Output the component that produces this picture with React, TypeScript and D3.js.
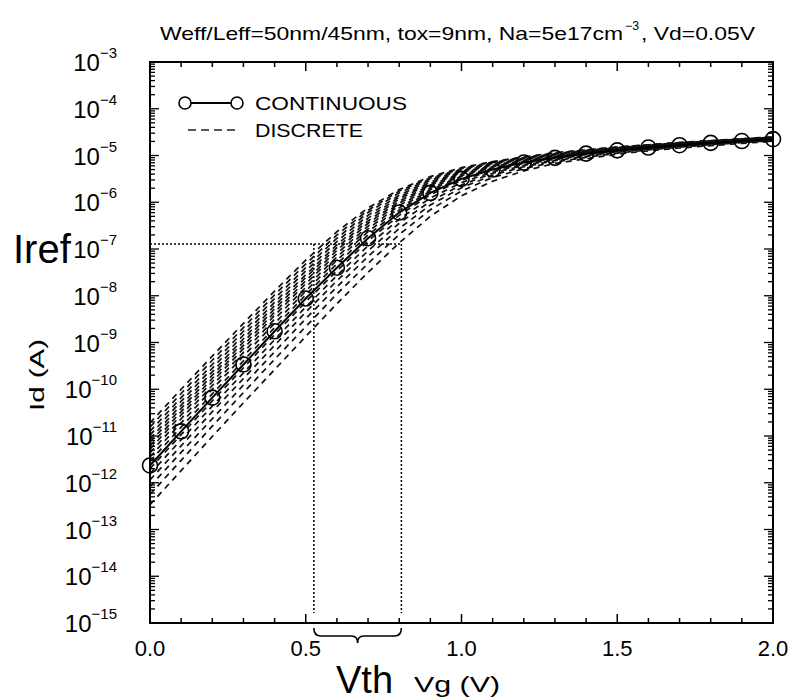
import React from 'react';
import * as d3 from 'd3';

// ---------- data (log10 of Id in A) ----------
const VG = [0.0, 0.1, 0.2, 0.3, 0.4, 0.5, 0.6, 0.7, 0.8, 0.9, 1.0, 1.1, 1.2, 1.3, 1.4, 1.5, 1.6, 1.7, 1.8, 1.9, 2.0];

const CONTINUOUS_LOG_ID = [-11.63, -10.90, -10.18, -9.47, -8.76, -8.06, -7.40, -6.77, -6.22, -5.80, -5.50, -5.30, -5.15, -5.05, -4.96, -4.89, -4.83, -4.78, -4.73, -4.69, -4.65];

const DISCRETE_01 = [-10.72, -10.00, -9.29, -8.59, -7.90, -7.24, -6.63, -6.12, -5.73, -5.45, -5.26, -5.13, -5.03, -4.94, -4.88, -4.82, -4.77, -4.72, -4.68, -4.64, -4.60];
const DISCRETE_02 = [-10.81, -10.09, -9.38, -8.68, -7.98, -7.32, -6.70, -6.17, -5.76, -5.48, -5.28, -5.14, -5.04, -4.95, -4.88, -4.82, -4.77, -4.73, -4.69, -4.65, -4.61];
const DISCRETE_03 = [-10.90, -10.18, -9.47, -8.76, -8.06, -7.40, -6.77, -6.22, -5.80, -5.50, -5.30, -5.15, -5.05, -4.96, -4.89, -4.83, -4.78, -4.73, -4.69, -4.65, -4.61];
const DISCRETE_04 = [-10.98, -10.26, -9.55, -8.84, -8.14, -7.47, -6.84, -6.28, -5.85, -5.53, -5.32, -5.17, -5.06, -4.97, -4.90, -4.84, -4.79, -4.74, -4.69, -4.65, -4.61];
const DISCRETE_05 = [-11.06, -10.34, -9.63, -8.92, -8.21, -7.55, -6.91, -6.34, -5.89, -5.57, -5.34, -5.18, -5.07, -4.98, -4.91, -4.84, -4.79, -4.74, -4.70, -4.66, -4.62];
const DISCRETE_06 = [-11.13, -10.41, -9.70, -8.99, -8.28, -7.61, -6.97, -6.40, -5.93, -5.60, -5.36, -5.20, -5.08, -4.99, -4.91, -4.85, -4.80, -4.75, -4.70, -4.66, -4.62];
const DISCRETE_07 = [-11.21, -10.48, -9.77, -9.06, -8.35, -7.68, -7.03, -6.45, -5.98, -5.63, -5.38, -5.21, -5.09, -5.00, -4.92, -4.86, -4.80, -4.75, -4.71, -4.67, -4.63];
const DISCRETE_08 = [-11.28, -10.55, -9.84, -9.13, -8.42, -7.74, -7.10, -6.51, -6.02, -5.66, -5.40, -5.23, -5.10, -5.01, -4.93, -4.86, -4.81, -4.76, -4.71, -4.67, -4.63];
const DISCRETE_09 = [-11.36, -10.63, -9.92, -9.21, -8.50, -7.82, -7.17, -6.57, -6.07, -5.69, -5.43, -5.24, -5.11, -5.02, -4.93, -4.87, -4.81, -4.76, -4.72, -4.68, -4.64];
const DISCRETE_10 = [-11.45, -10.72, -10.00, -9.29, -8.59, -7.90, -7.24, -6.63, -6.12, -5.73, -5.45, -5.26, -5.13, -5.03, -4.94, -4.88, -4.82, -4.77, -4.72, -4.68, -4.64];
const DISCRETE_11 = [-11.54, -10.81, -10.10, -9.39, -8.68, -7.98, -7.32, -6.70, -6.17, -5.76, -5.48, -5.28, -5.14, -5.04, -4.95, -4.88, -4.82, -4.77, -4.73, -4.69, -4.65];
const DISCRETE_12 = [-11.70, -10.97, -10.25, -9.54, -8.83, -8.13, -7.47, -6.83, -6.28, -5.84, -5.53, -5.32, -5.17, -5.06, -4.97, -4.90, -4.84, -4.79, -4.74, -4.69, -4.65];
const DISCRETE_13 = [-11.81, -11.08, -10.36, -9.65, -8.94, -8.24, -7.57, -6.93, -6.36, -5.91, -5.58, -5.35, -5.19, -5.08, -4.98, -4.91, -4.85, -4.79, -4.74, -4.70, -4.66];
const DISCRETE_14 = [-11.94, -11.21, -10.48, -9.77, -9.06, -8.35, -7.68, -7.04, -6.45, -5.98, -5.63, -5.38, -5.21, -5.09, -5.00, -4.92, -4.86, -4.80, -4.75, -4.71, -4.67];
const DISCRETE_15 = [-12.08, -11.35, -10.63, -9.91, -9.20, -8.49, -7.81, -7.16, -6.56, -6.06, -5.69, -5.42, -5.24, -5.11, -5.02, -4.93, -4.87, -4.81, -4.76, -4.72, -4.68];
const DISCRETE_16 = [-12.25, -11.52, -10.79, -10.07, -9.36, -8.66, -7.96, -7.31, -6.69, -6.16, -5.76, -5.47, -5.28, -5.14, -5.04, -4.95, -4.88, -4.82, -4.77, -4.72, -4.68];
const DISCRETE_17 = [-12.47, -11.74, -11.01, -10.29, -9.58, -8.87, -8.17, -7.50, -6.87, -6.30, -5.86, -5.55, -5.33, -5.17, -5.07, -4.97, -4.90, -4.84, -4.79, -4.74, -4.70];

const DISCRETE_CURVES = [
  DISCRETE_01, DISCRETE_02, DISCRETE_03, DISCRETE_04, DISCRETE_05, DISCRETE_06,
  DISCRETE_07, DISCRETE_08, DISCRETE_09, DISCRETE_10, DISCRETE_11, DISCRETE_12,
  DISCRETE_13, DISCRETE_14, DISCRETE_15, DISCRETE_16, DISCRETE_17,
];

const X_TICK_LABELS = ['0.0', '0.5', '1.0', '1.5', '2.0'];
const Y_EXPONENTS = [-3, -4, -5, -6, -7, -8, -9, -10, -11, -12, -13, -14, -15];
const IREF = 1.28e-7;
const VTH_LOW = 0.526;
const VTH_HIGH = 0.807;

const FONT = '"Liberation Sans", Arial, Helvetica, sans-serif';

export default function App() {
  const left = 150, right = 773, top = 62, bottom = 623;
  const x = d3.scaleLinear().domain([0, 2]).range([left, right]);
  const y = d3.scaleLog().domain([1e-15, 1e-3]).range([bottom, top]);

  const line = d3.line<number>()
    .x((_, i) => x(VG[i]))
    .y((d) => y(Math.pow(10, d)));

  const xMinor = x.ticks(20);
  const xMajor = x.ticks(4);
  const yAll = y.ticks(20);
  const isDecade = (v: number) => Math.abs(Math.log10(v) - Math.round(Math.log10(v))) < 1e-6;

  const braceY = 628;
  const xa = x(VTH_LOW), xb = x(VTH_HIGH), xm = (xa + xb) / 2;
  const bracePath = `M${xa},${braceY} Q${xa},${braceY + 8} ${xa + 7},${braceY + 8} L${xm - 6},${braceY + 8} Q${xm},${braceY + 8} ${xm},${braceY + 15} Q${xm},${braceY + 8} ${xm + 6},${braceY + 8} L${xb - 7},${braceY + 8} Q${xb},${braceY + 8} ${xb},${braceY}`;

  return (
    <div style={{ position: 'absolute', left: 0, top: 0 }}>
      <svg width={794} height={700} style={{ display: 'block', background: '#fff' }} fontFamily={FONT}>
        {/* title */}
        <text x={160} y={40} fontSize={19} textLength={463} lengthAdjust="spacingAndGlyphs">Weff/Leff=50nm/45nm, tox=9nm, Na=5e17cm</text>
        <text x={625} y={30} fontSize={12} textLength={14} lengthAdjust="spacingAndGlyphs">−3</text>
        <text x={641} y={40} fontSize={19} textLength={114} lengthAdjust="spacingAndGlyphs">, Vd=0.05V</text>

        {/* discrete curves */}
        {DISCRETE_CURVES.map((c, i) => (
          <path key={i} d={line(c) || ''} fill="none" stroke="#111" strokeWidth={1.7} strokeDasharray="6,5" />
        ))}

        {/* continuous */}
        <path d={line(CONTINUOUS_LOG_ID) || ''} fill="none" stroke="#000" strokeWidth={2} />
        {CONTINUOUS_LOG_ID.map((d, i) => (
          <circle key={i} cx={x(VG[i])} cy={y(Math.pow(10, d))} r={7.5} fill="none" stroke="#000" strokeWidth={1.6} />
        ))}

        {/* Iref / Vth dotted guides */}
        <line x1={left} x2={xb} y1={y(IREF)} y2={y(IREF)} stroke="#000" strokeWidth={1.5} strokeDasharray="2,2" />
        <line x1={xa} x2={xa} y1={y(IREF)} y2={bottom - 10} stroke="#000" strokeWidth={1.5} strokeDasharray="2,2" />
        <line x1={xb} x2={xb} y1={y(IREF)} y2={bottom - 10} stroke="#000" strokeWidth={1.5} strokeDasharray="2,2" />

        {/* frame */}
        <rect x={left} y={top} width={right - left} height={bottom - top} fill="none" stroke="#000" strokeWidth={2} />

        {/* x ticks */}
        {xMinor.map((v, i) => {
          const major = xMajor.some((m) => Math.abs(m - v) < 1e-9);
          const len = major ? 9 : 5;
          return (
            <g key={i}>
              <line x1={x(v)} x2={x(v)} y1={bottom} y2={bottom - len} stroke="#000" strokeWidth={1.5} />
              <line x1={x(v)} x2={x(v)} y1={top} y2={top + len} stroke="#000" strokeWidth={1.5} />
            </g>
          );
        })}
        {xMajor.map((v, i) => (
          <text key={i} x={x(v)} y={656} fontSize={22} textAnchor="middle">{X_TICK_LABELS[i]}</text>
        ))}

        {/* y ticks */}
        {yAll.map((v, i) => {
          const len = isDecade(v) ? 9 : 5;
          return (
            <g key={i}>
              <line x1={left} x2={left + len} y1={y(v)} y2={y(v)} stroke="#000" strokeWidth={1.3} />
              <line x1={right} x2={right - len} y1={y(v)} y2={y(v)} stroke="#000" strokeWidth={1.3} />
            </g>
          );
        })}
        {Y_EXPONENTS.map((e) => (
          <text key={e} x={117} y={y(Math.pow(10, e)) + 9} fontSize={24} textAnchor="end">
            10<tspan dy={-13} fontSize={15}>{'−' + Math.abs(e)}</tspan>
          </text>
        ))}

        {/* axis titles */}
        <text transform="translate(44,375) rotate(-90)" fontSize={21} textAnchor="middle" textLength={72} lengthAdjust="spacingAndGlyphs">Id (A)</text>
        <text x={414} y={692} fontSize={22} textLength={86} lengthAdjust="spacingAndGlyphs">Vg (V)</text>

        {/* legend */}
        <line x1={185} x2={237} y1={103} y2={103} stroke="#000" strokeWidth={2} />
        <circle cx={185} cy={103} r={6} fill="#fff" stroke="#000" strokeWidth={1.6} />
        <circle cx={237} cy={103} r={6} fill="#fff" stroke="#000" strokeWidth={1.6} />
        <text x={255} y={110} fontSize={19} textLength={152} lengthAdjust="spacingAndGlyphs">CONTINUOUS</text>
        <line x1={188} x2={240} y1={130} y2={130} stroke="#222" strokeWidth={1.3} strokeDasharray="8,5" />
        <text x={255} y={137} fontSize={19} textLength={108} lengthAdjust="spacingAndGlyphs">DISCRETE</text>

        {/* annotations */}
        <text x={13} y={263} fontSize={40}>Iref</text>
        <path d={bracePath} fill="none" stroke="#000" strokeWidth={1.6} />
        <text x={336} y={693} fontSize={38}>Vth</text>
      </svg>
    </div>
  );
}
